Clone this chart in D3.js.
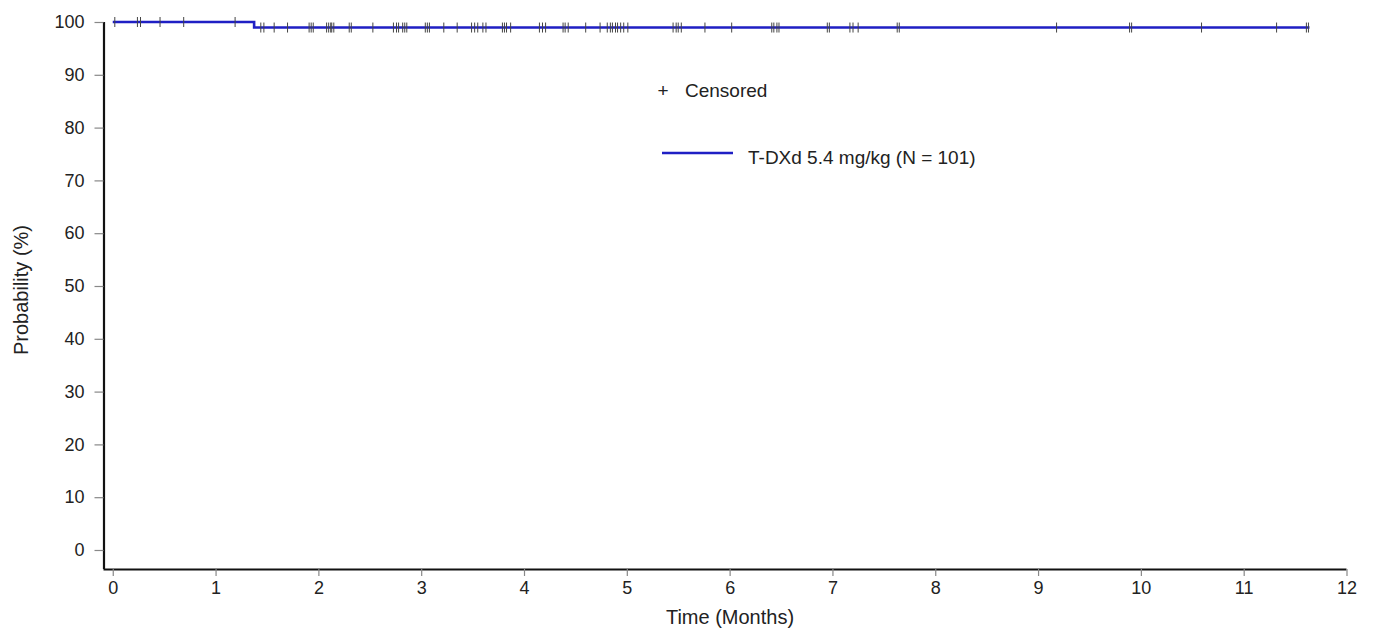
<!DOCTYPE html>
<html>
<head>
<meta charset="utf-8">
<script src="https://d3js.org/d3.v7.min.js"></script>
<style>
  body { margin: 0; background: #fff; }
  svg text { font-family: "Liberation Sans", Arial, sans-serif; fill: #222; }
</style>
</head>
<body>
<svg id="km" width="1375" height="630"></svg>
<script>
// KM curve, T-DXd 5.4 mg/kg (N = 101)
var stepTimes = [0, 1.375, 11.64];          // curve start, single event, last follow-up
var stepSurv  = [100, 98.95, 98.95];        // probability (%) after each step
var censorTimes = [
  0.02, 0.24, 0.27, 0.46, 0.69, 1.19,
  1.44, 1.47, 1.57, 1.70, 1.91, 1.93, 1.95, 2.08, 2.10, 2.12, 2.13, 2.15,
  2.30, 2.32, 2.53, 2.73, 2.76, 2.78, 2.82, 2.84, 2.86, 3.04, 3.06, 3.08,
  3.22, 3.35, 3.49, 3.52, 3.55, 3.60, 3.63, 3.79, 3.81, 3.83, 3.87,
  4.15, 4.18, 4.21, 4.38, 4.40, 4.43, 4.60, 4.74, 4.81, 4.84, 4.86, 4.89,
  4.91, 4.94, 4.97, 5.01, 5.45, 5.48, 5.50, 5.53, 5.76, 6.02,
  6.41, 6.43, 6.46, 6.48, 6.95, 6.97, 7.17, 7.20, 7.25, 7.63, 7.65,
  9.18, 9.89, 9.91, 10.59, 11.32, 11.61, 11.63
];
var xTicks = [0, 1, 2, 3, 4, 5, 6, 7, 8, 9, 10, 11, 12];
var yTicks = [0, 10, 20, 30, 40, 50, 60, 70, 80, 90, 100];
var seriesLabel = "T-DXd 5.4 mg/kg (N = 101)";

var svg = d3.select("#km");
var lineColor = "#1f1fc4";

// axis line starts a bit left of x=0 and a bit below y=0, like the SAS output
var x = d3.scaleLinear().domain([-0.09, 12]).range([103.5, 1346.5]);
var y = d3.scaleLinear().domain([-3.6, 100]).range([569, 22]);

function survAt(t) {
  var s = stepSurv[0];
  for (var i = 0; i < stepTimes.length; i++) if (stepTimes[i] <= t) s = stepSurv[i];
  return s;
}

// x axis
var gx = svg.append("g")
    .attr("transform", "translate(0,569)")
    .call(d3.axisBottom(x).tickValues(xTicks).tickSize(7).tickPadding(5).tickFormat(d3.format("d")));
// y axis
var gy = svg.append("g")
    .attr("transform", "translate(103.5,0)")
    .call(d3.axisLeft(y).tickValues(yTicks).tickSize(9).tickPadding(10).tickFormat(d3.format("d")));

[gx, gy].forEach(function(g) {
  g.select(".domain").attr("stroke", "#111").attr("stroke-width", 2.2);
  g.selectAll(".tick line").attr("stroke", "#888").attr("stroke-width", 1.2);
  g.selectAll(".tick text").style("font-size", "18px").attr("fill", "#222");
});
// SAS draws plain lines, no outer tick caps
gx.select(".domain").attr("d", "M103.5,0.5H1346.5");
gy.select(".domain").attr("d", "M0.5,22V569");

// axis titles
svg.append("text")
    .attr("x", 730).attr("y", 624)
    .attr("text-anchor", "middle")
    .style("font-size", "20px")
    .text("Time (Months)");
svg.append("text")
    .attr("transform", "translate(28,290) rotate(-90)")
    .attr("text-anchor", "middle")
    .style("font-size", "20px")
    .text("Probability (%)");

// step curve
var pts = stepTimes.map(function(t, i) { return [t, stepSurv[i]]; });
svg.append("path")
    .datum(pts)
    .attr("fill", "none")
    .attr("stroke", lineColor)
    .attr("stroke-width", 2.6)
    .attr("d", d3.line().x(d => x(d[0])).y(d => y(d[1])).curve(d3.curveStepAfter));

// censor marks (the horizontal bar of the + sits on the curve)
svg.selectAll(".cens")
  .data(censorTimes)
  .enter().append("line")
    .attr("class", "cens")
    .attr("x1", d => x(d)).attr("x2", d => x(d))
    .attr("y1", d => y(survAt(d)) - 5).attr("y2", d => y(survAt(d)) + 5)
    .attr("stroke", "#444")
    .attr("stroke-width", 1);

// legend
svg.append("text")
    .attr("x", 663).attr("y", 97)
    .attr("text-anchor", "middle")
    .style("font-size", "19px")
    .text("+");
svg.append("text")
    .attr("x", 685).attr("y", 97)
    .style("font-size", "19px")
    .text("Censored");
svg.append("line")
    .attr("x1", 662).attr("x2", 733)
    .attr("y1", 153).attr("y2", 153)
    .attr("stroke", lineColor)
    .attr("stroke-width", 2.6);
svg.append("text")
    .attr("x", 748).attr("y", 164)
    .style("font-size", "19px")
    .text(seriesLabel);
</script>
</body>
</html>
